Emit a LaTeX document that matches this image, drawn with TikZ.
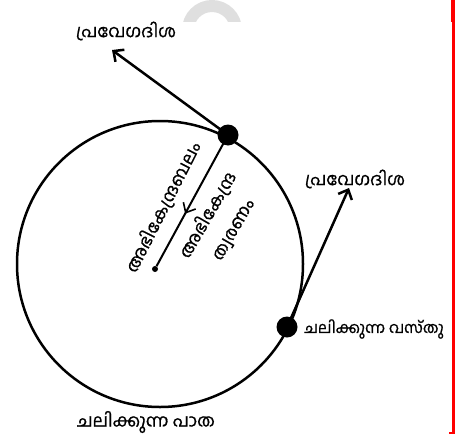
\documentclass[tikz,border=0pt]{standalone}
\usepackage{fontspec}
\newfontfamily\mal[Script=Malayalam,FakeBold=0.8]{Hind Kochi}
\usetikzlibrary{arrows.meta,decorations.markings}
\begin{document}
\begin{tikzpicture}[x=1pt,y=-1pt,
  lbl/.style={font=\mal\fontsize{17.5}{19}\selectfont, inner sep=0pt},
  smlbl/.style={font=\mal\fontsize{15.5}{18}\selectfont, inner sep=0pt},
  bigdot/.style={circle, fill=black, minimum size=21pt, inner sep=0pt},
  smalldot/.style={circle, fill=black, minimum size=6pt, inner sep=0pt},
  vel/.style={line width=2.5pt, -{Straight Barb[length=8pt,width=15pt]}},
  path/.style={line width=2.5pt},
  cent/.style={line width=2pt, postaction={decorate},
    decoration={markings, mark=at position 0.6 with {\arrow{Straight Barb[length=8pt,width=14pt,line width=1.6pt]}}}}]
\useasboundingbox (0,0) rectangle (457,436);
% watermark arc
\begin{scope}
\clip (150,0) rectangle (260,22);
\draw[line width=12pt, gray!25] (212,30) circle [radius=24pt];
\end{scope}
% red border
\fill[red] (450.5,0) rectangle (455,22);
\fill[red] (452,0) rectangle (455,433.5);
\fill[red] (449,431.5) rectangle (455,433.5);
% path circle
\coordinate (O) at (160,264);
\draw[path] (O) circle [radius=143pt];
\node[bigdot] (d1) at (228,135) {};
\node[bigdot] (d2) at (287,327) {};
\node[smalldot] (c) at (155,269) {};
\coordinate (t1) at (112,50);
\coordinate (t2) at (349,188);
\draw[vel] (d1.center) -- (t1);
\draw[vel] (d2.center) -- (t2);
\draw[cent] (d1.center) -- (c);
% labels
\node[lbl] (v1) at (126,31) {പ്രവേഗദിശ};
\node[lbl] (v2) at (355,179) {പ്രവേഗദിശ};
\node[lbl, rotate=63] (f) at (163,207) {അഭികേന്ദ്രബലം};
\node[lbl, rotate=60, align=center] (a) at (220,222) {അഭികേന്ദ്ര\\[10pt]ത്വരണം};
\node[smlbl, anchor=west] (obj) at (304,329) {ചലിക്കുന്ന വസ്തു};
\node[lbl] (p) at (146,422) {ചലിക്കുന്ന പാത};
\end{tikzpicture}
\end{document}
